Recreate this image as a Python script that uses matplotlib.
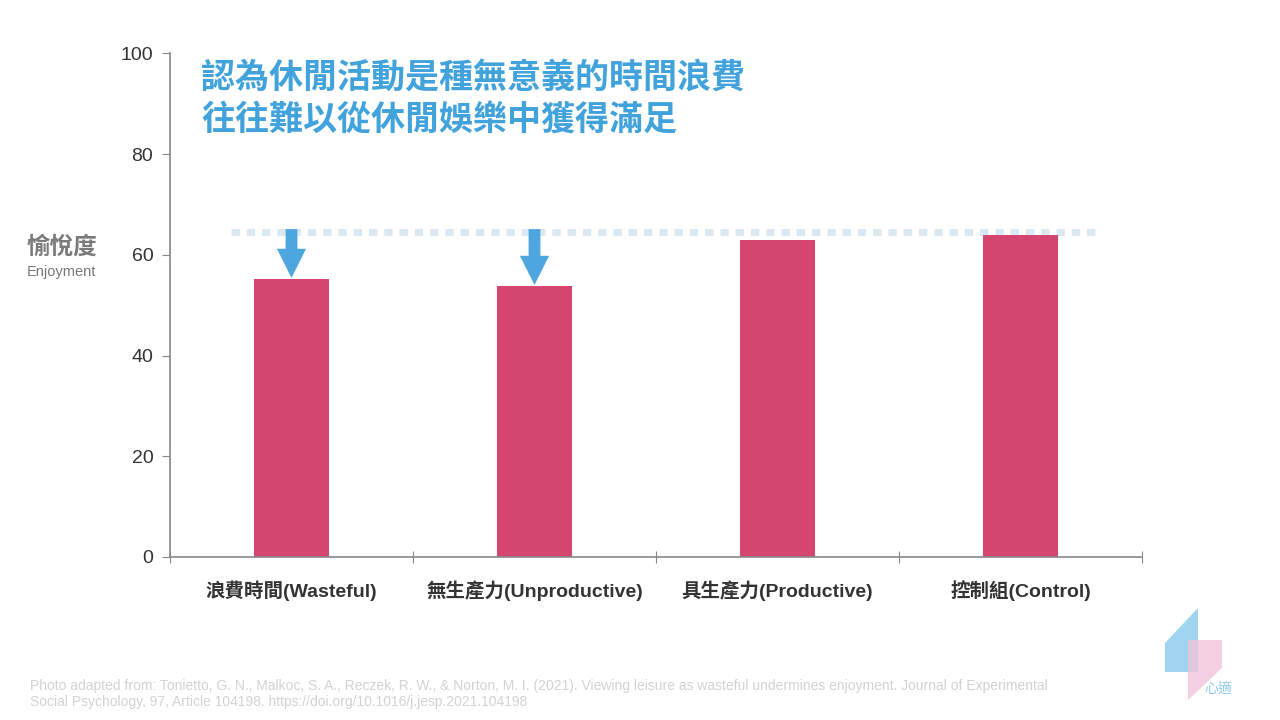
import matplotlib.pyplot as plt
from matplotlib.patches import Polygon

plt.rcParams['font.family'] = ['Liberation Sans', 'Noto Sans CJK TC', 'DejaVu Sans']

categories = ['浪費時間(Wasteful)', '無生產力(Unproductive)', '具生產力(Productive)', '控制組(Control)']
enjoyment = [55.2, 53.8, 62.9, 63.9]
reference_level = 64.5
arrow_bars = [0, 1]

bar_color = '#d4456f'
blue = '#4da6dd'
axis_gray = '#888888'

fig = plt.figure(figsize=(12.8, 7.2), dpi=100)
ax = fig.add_axes([0.1328, 0.2264, 0.7594, 0.6996])

x = list(range(len(categories)))
ax.bar(x, enjoyment, width=0.31, color=bar_color, zorder=2)

# dotted reference line at the control level
ax.plot([-0.25, 3.32], [reference_level, reference_level], color='#dce8f1',
        linewidth=5, linestyle=(0, (1.2, 1.0)), solid_capstyle='butt', zorder=1)

# arrows pointing down onto the lower bars
for i in arrow_bars:
    ax.annotate('', xy=(x[i], enjoyment[i] + 0.2), xytext=(x[i], reference_level + 0.6),
                arrowprops=dict(arrowstyle='simple,head_width=2.1,head_length=2.1,tail_width=0.85',
                                color=blue, lw=0, mutation_scale=10,
                                shrinkA=0, shrinkB=0), zorder=3)

ax.set_xlim(-0.5, 3.5)
ax.set_ylim(0, 100)
ax.set_yticks([0, 20, 40, 60, 80, 100])
ax.set_xticks([-0.5, 0.5, 1.5, 2.5, 3.5])
ax.set_xticklabels([])
ax.set_xticks(x, minor=True)
ax.set_xticklabels(categories, minor=True, fontsize=14, fontweight='bold', color='#333333')
ax.tick_params(axis='x', which='minor', length=0, pad=17)
ax.tick_params(axis='x', which='major', length=8, color=axis_gray, direction='inout')
ax.tick_params(axis='y', length=6, color=axis_gray, labelsize=14, labelcolor='#333333', pad=6)
for s in ['top', 'right']:
    ax.spines[s].set_visible(False)
for s in ['left', 'bottom']:
    ax.spines[s].set_color(axis_gray)
    ax.spines[s].set_linewidth(1.2)

# title
fig.text(201 / 1280, 1 - 79 / 720, '認為休閒活動是種無意義的時間浪費',
         fontsize=24.5, fontweight='bold', color='#42a3dc', va='center')
fig.text(201 / 1280, 1 - 121 / 720, '往往難以從休閒娛樂中獲得滿足',
         fontsize=24.5, fontweight='bold', color='#42a3dc', va='center')

# y label
fig.text(27 / 1280, 1 - 247 / 720, '愉悅度', fontsize=17, fontweight='bold', color='#7a7a7a', va='center')
fig.text(27 / 1280, 1 - 272 / 720, 'Enjoyment', fontsize=10.5, color='#777777', va='center')

# source note
fig.text(30 / 1280, 1 - 686 / 720,
         'Photo adapted from: Tonietto, G. N., Malkoc, S. A., Reczek, R. W., & Norton, M. I. (2021). '
         'Viewing leisure as wasteful undermines enjoyment. Journal of Experimental',
         fontsize=10, color='#d2d2d2', va='center')
fig.text(30 / 1280, 1 - 702 / 720,
         'Social Psychology, 97, Article 104198. https://doi.org/10.1016/j.jesp.2021.104198',
         fontsize=10, color='#d2d2d2', va='center')

# logo
def fxy(px, py):
    return (px / 1280, 1 - py / 720)

fig.patches.append(Polygon([fxy(1165, 643), fxy(1198, 608), fxy(1198, 672), fxy(1165, 672)],
                           closed=True, transform=fig.transFigure, facecolor='#9fd4f0', edgecolor='none'))
fig.patches.append(Polygon([fxy(1188, 640), fxy(1222, 640), fxy(1222, 668), fxy(1188, 700)],
                           closed=True, transform=fig.transFigure, facecolor='#f2c4da', edgecolor='none',
                           alpha=0.8))
fig.text(1204 / 1280, 1 - 689 / 720, '心適', fontsize=10, color='#8ccbed', va='center',
         family=['Noto Sans CJK TC'])

fig.savefig('out.png', dpi=100, facecolor='white')
